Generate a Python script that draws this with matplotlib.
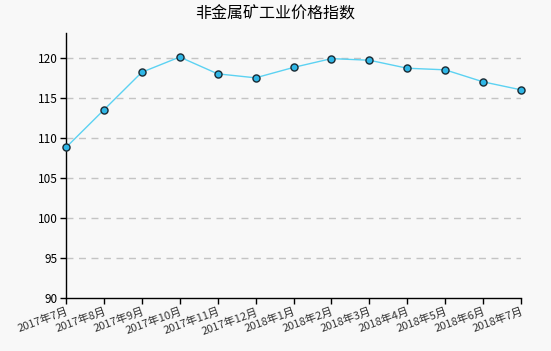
import matplotlib
matplotlib.use("Agg")
import matplotlib.pyplot as plt

plt.rcParams['font.family'] = ['Noto Sans CJK SC', 'DejaVu Sans']

title = "非金属矿工业价格指数"
months = ["2017年7月", "2017年8月", "2017年9月", "2017年10月", "2017年11月", "2017年12月",
          "2018年1月", "2018年2月", "2018年3月", "2018年4月", "2018年5月", "2018年6月", "2018年7月"]
values = [108.8, 113.5, 118.2, 120.1, 118.0, 117.5, 118.8, 119.9, 119.7, 118.7, 118.5, 117.0, 116.0]
yticks = [90, 95, 100, 105, 110, 115, 120]

fig = plt.figure(figsize=(5.51, 3.51), dpi=100, facecolor='#f8f8f8')
ax = fig.add_axes([66/551, 53/351, (521-66)/551, (298-33)/351])
ax.set_facecolor('#f8f8f8')

x = list(range(len(months)))
ax.plot(x, values, color='#5cd2f2', linewidth=1, zorder=3)
ax.scatter(x, values, s=26, facecolor='#2fb6e6', edgecolor='#1a2a33', linewidth=1, zorder=4, clip_on=False)

ax.set_xlim(0, len(months) - 1)
ax.set_ylim(90, 123.1)
ax.set_yticks(yticks)
ax.set_yticklabels([str(v) for v in yticks], fontsize=8.5)
for v in yticks[1:]:
    ax.axhline(v, color='#c4c4c4', linestyle=(0, (5, 4)), linewidth=1, zorder=1)

ax.set_xticks(x)
ax.set_xticklabels(months, rotation=20, ha='right', rotation_mode='anchor', fontsize=8, color='#333333')

for s in ['top', 'right']:
    ax.spines[s].set_visible(False)
for s in ['left', 'bottom']:
    ax.spines[s].set_color('black')
    ax.spines[s].set_linewidth(1)
ax.tick_params(axis='both', direction='out', length=4, width=1, color='black', pad=2)

fig.text(0.5, 1 - 14/351, title, ha='center', va='center', fontsize=11.5)

fig.savefig('out.png', dpi=100, facecolor=fig.get_facecolor())
